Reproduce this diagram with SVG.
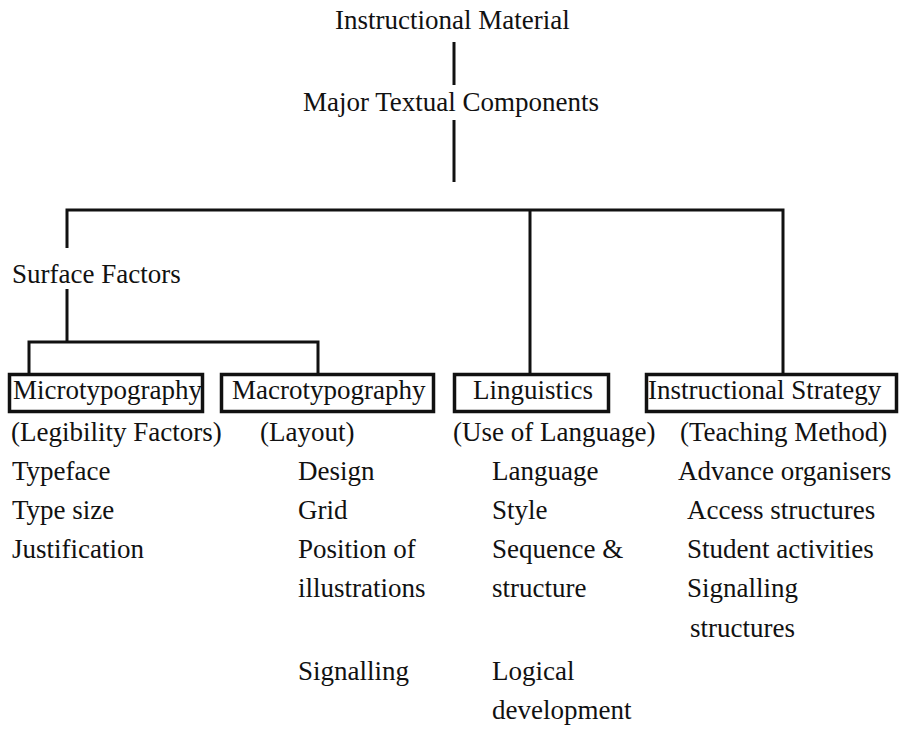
<svg xmlns="http://www.w3.org/2000/svg" width="903" height="729" viewBox="0 0 903 729">
<style>
.t{font-family:'Liberation Serif','DejaVu Serif',serif;font-size:27px;fill:#111}
.ln{stroke:#111;stroke-width:3;fill:none}
.box{stroke:#111;stroke-width:3.5;fill:none}
</style>
<rect width="903" height="729" fill="#fff"/>
<g id="connectors">
<line class="ln" x1="454" y1="42" x2="454" y2="85"/>
<line class="ln" x1="454" y1="120" x2="454" y2="182"/>
<polyline class="ln" points="67,248 67,210 783,210 783,374"/>
<line class="ln" x1="530" y1="210" x2="530" y2="374"/>
<line class="ln" x1="67" y1="289" x2="67" y2="342"/>
<polyline class="ln" points="29,374 29,342 318,342 318,374"/>
</g>
<g class="t" font-family="Liberation Serif, DejaVu Serif, serif">
<g id="instructional-material"><text x="335" y="29">Instructional Material</text></g>
<g id="major-textual-components"><text x="303" y="111">Major Textual Components</text></g>
<g id="surface-factors"><text x="12" y="283">Surface Factors</text></g>
<g id="microtypography">
<rect class="box" x="9.5" y="374.5" width="193" height="37"/>
<text x="13" y="399">Microtypography</text>
<text x="11" y="441">(Legibility Factors)</text>
<text x="12" y="480">Typeface</text>
<text x="12" y="519">Type size</text>
<text x="12" y="558">Justification</text>
</g>
<g id="macrotypography">
<rect class="box" x="221.5" y="374.5" width="212" height="37"/>
<text x="232" y="399">Macrotypography</text>
<text x="260" y="441">(Layout)</text>
<text x="298" y="480">Design</text>
<text x="298" y="519">Grid</text>
<text x="298" y="558">Position of</text>
<text x="298" y="597">illustrations</text>
<text x="298" y="680">Signalling</text>
</g>
<g id="linguistics">
<rect class="box" x="454.5" y="374.5" width="154" height="37"/>
<text x="473" y="399">Linguistics</text>
<text x="453" y="441">(Use of Language)</text>
<text x="492" y="480">Language</text>
<text x="492" y="519">Style</text>
<text x="492" y="558">Sequence &amp;</text>
<text x="492" y="597">structure</text>
<text x="492" y="680">Logical</text>
<text x="492" y="719">development</text>
</g>
<g id="instructional-strategy">
<rect class="box" x="646.5" y="374.5" width="250" height="37"/>
<text x="648" y="399">Instructional Strategy</text>
<text x="680" y="441">(Teaching Method)</text>
<text x="678" y="480">Advance organisers</text>
<text x="687" y="519">Access structures</text>
<text x="687" y="558">Student activities</text>
<text x="687" y="597">Signalling</text>
<text x="690" y="637">structures</text>
</g>
</g>
</svg>
